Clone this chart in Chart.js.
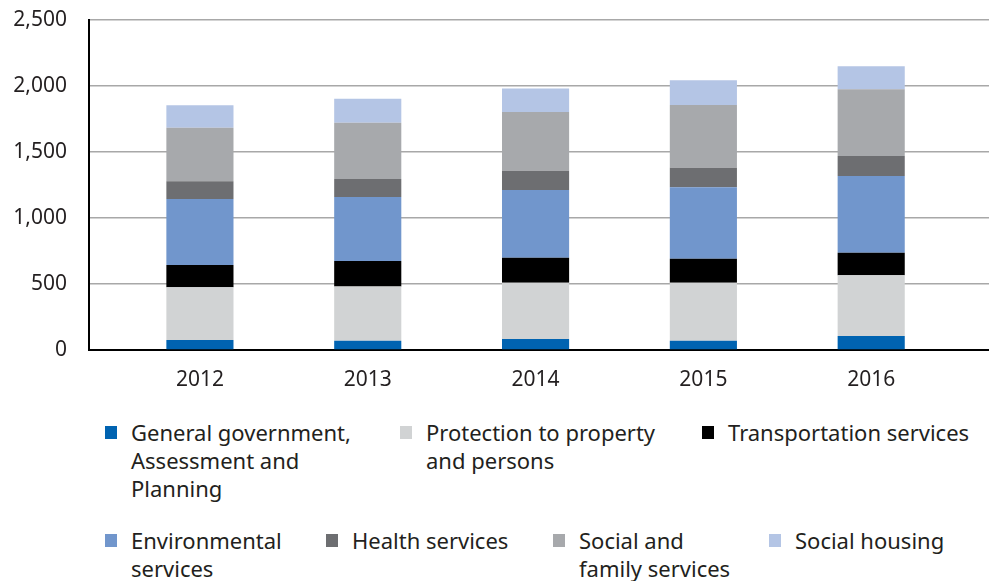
<!DOCTYPE html>
<html>
<head>
<meta charset="utf-8">
<script src="https://cdn.jsdelivr.net/npm/chart.js@4"></script>
<style>
    html, body { margin: 0; padding: 0; background: #fff; }
    body { width: 989px; height: 581px; position: relative; overflow: hidden; font-family: "Noto Sans", Lato, sans-serif; color: #231f20; }
    #chartBox { position: absolute; left: 0; top: 0; width: 989px; height: 400px; }
    .legend-item { position: absolute; font-size: 22px; line-height: 28px; }
    .legend-item .swatch { position: absolute; left: 0; top: 7px; width: 12px; height: 13px; }
    .legend-item .text { position: absolute; left: 26px; top: -1px; white-space: nowrap; }
</style>
</head>
<body>
<div id="chartBox"><canvas id="budgetChart" width="989" height="400"></canvas></div>
<div id="legend"></div>
<script>
// Categories
const years = ['2012', '2013', '2014', '2015', '2016'];

// Series
const generalGov = [76, 71, 83, 71, 106];
const protection = [399, 411, 427, 439, 460];
const transport = [169, 192, 189, 182, 171];
const environmental = [500, 485, 513, 541, 581];
const health = [134, 136, 146, 148, 152];
const socialFamily = [406, 427, 445, 475, 505];
const socialHousing = [170, 182, 179, 187, 174];

// Legend text, as it wraps in the original
const seriesNames = [
    ['General government,', 'Assessment and', 'Planning'],
    ['Protection to property', 'and persons'],
    ['Transportation services'],
    ['Environmental', 'services'],
    ['Health services'],
    ['Social and', 'family services'],
    ['Social housing']
];

// Y axis ticks
const yTicks = [0, 500, 1000, 1500, 2000, 2500];

const seriesValues = [generalGov, protection, transport, environmental, health, socialFamily, socialHousing];
const seriesColors = ['#0063b1', '#d1d3d4', '#000000', '#7196cc', '#6d6e71', '#a7a9ac', '#b4c5e5'];

// legend placement: [left, top] of each item
const legendPos = [[105, 419], [400, 419], [702, 419], [105, 527], [326, 527], [553, 527], [769, 527]];

const textColor = '#231f20';
const fontFamily = '"Noto Sans", Lato, sans-serif';

const datasets = seriesValues.map((vals, s) => ({
    label: seriesNames[s].join(' '),
    data: vals.map((v, i) => ({ x: i, y: v })),
    backgroundColor: seriesColors[s],
    borderWidth: 0,
    barPercentage: 1,
    categoryPercentage: 0.4
}));

new Chart(document.getElementById('budgetChart'), {
    type: 'bar',
    data: { datasets: datasets },
    options: {
        responsive: false,
        animation: false,
        devicePixelRatio: 1,
        layout: { padding: { top: 20, right: 0, bottom: 0, left: 0 } },
        plugins: { legend: { display: false }, tooltip: { enabled: false } },
        scales: {
            x: {
                type: 'linear',
                stacked: true,
                offset: false,
                min: -0.661,
                max: 4.702,
                afterBuildTicks: scale => { scale.ticks = years.map((y, i) => ({ value: i })); },
                afterFit: scale => { scale.height = 50; },
                grid: { display: false, drawTicks: false },
                border: { color: '#000', width: 2 },
                ticks: {
                    color: textColor,
                    padding: 17,
                    maxRotation: 0,
                    autoSkip: false,
                    font: { family: fontFamily, size: 21 },
                    callback: v => years[v]
                }
            },
            y: {
                stacked: true,
                min: 0,
                max: 2500,
                afterBuildTicks: scale => { scale.ticks = yTicks.map(v => ({ value: v })); },
                afterFit: scale => {
                    scale.width = 89;
                    scale.paddingTop = 0;
                    scale.paddingBottom = 0;
                },
                grid: { color: '#a8a8a8', lineWidth: 1.5, drawTicks: false },
                border: { color: '#000', width: 2 },
                ticks: {
                    color: textColor,
                    padding: 22,
                    autoSkip: false,
                    font: { family: fontFamily, size: 21 },
                    callback: v => v.toLocaleString('en-US')
                }
            }
        }
    }
});

// HTML legend with wrapped labels
const legendEl = document.getElementById('legend');
seriesNames.forEach((lines, s) => {
    const item = document.createElement('div');
    item.className = 'legend-item';
    item.style.left = legendPos[s][0] + 'px';
    item.style.top = legendPos[s][1] + 'px';
    const sw = document.createElement('div');
    sw.className = 'swatch';
    sw.style.background = seriesColors[s];
    const tx = document.createElement('div');
    tx.className = 'text';
    tx.innerHTML = lines.join('<br>');
    item.appendChild(sw);
    item.appendChild(tx);
    legendEl.appendChild(item);
});
</script>
</body>
</html>
